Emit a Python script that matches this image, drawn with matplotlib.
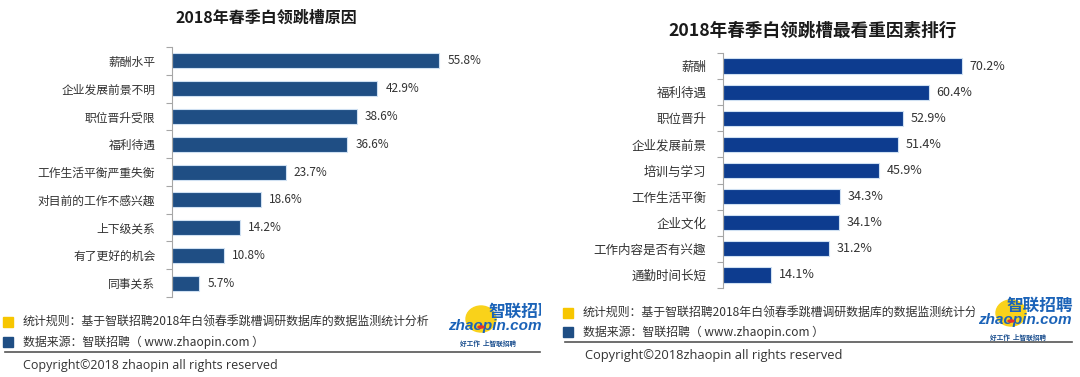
import numpy as np
import matplotlib.pyplot as plt
from matplotlib.patches import Rectangle, Ellipse, Circle
from matplotlib.transforms import Bbox, TransformedBbox

plt.rcParams['font.family'] = ['Noto Sans CJK SC', 'DejaVu Sans']

# left chart: reasons for changing jobs
left_title = '2018年春季白领跳槽原因'
left_labels = ['薪酬水平', '企业发展前景不明', '职位晋升受限', '福利待遇', '工作生活平衡严重失衡',
               '对目前的工作不感兴趣', '上下级关系', '有了更好的机会', '同事关系']
left_values = [55.8, 42.9, 38.6, 36.6, 23.7, 18.6, 14.2, 10.8, 5.7]

# right chart: most valued factors
right_title = '2018年春季白领跳槽最看重因素排行'
right_labels = ['薪酬', '福利待遇', '职位晋升', '企业发展前景', '培训与学习',
                '工作生活平衡', '企业文化', '工作内容是否有兴趣', '通勤时间长短']
right_values = [70.2, 60.4, 52.9, 51.4, 45.9, 34.3, 34.1, 31.2, 14.1]

note_rule = '统计规则：基于智联招聘2018年白领春季跳槽调研数据库的数据监测统计分析'
note_source = '数据来源：智联招聘（ www.zhaopin.com ）'
copy_left = 'Copyright©2018 zhaopin all rights reserved'
copy_right = 'Copyright©2018zhaopin all rights reserved'

W, H = 1080, 377
fig = plt.figure(figsize=(W / 100, H / 100), dpi=100)
fig.patch.set_facecolor('white')


def fx(x):
    return x / W


def fy(y):
    return 1 - y / H


def clip_to(artist, x0, x1):
    box = Bbox.from_extents(fx(x0), 0, fx(x1), 1)
    artist.set_clip_box(TransformedBbox(box, fig.transFigure))
    artist.set_clip_on(True)


def px_axes(x0, y0, x1, y1):
    return fig.add_axes([fx(x0), fy(y1), (x1 - x0) / W, (y1 - y0) / H])


def bar_panel(box, labels, values, xmax, color, bar_h, fs, title, title_y, title_x, title_fs):
    ax = px_axes(*box)
    y = np.arange(len(labels))
    ax.barh(y, values, height=bar_h, color=color, edgecolor='#cfe0f2', linewidth=0.8)
    ax.set_xlim(0, xmax)
    ax.set_ylim(len(labels) - 0.5, -0.5)
    for s in ['top', 'right', 'bottom']:
        ax.spines[s].set_visible(False)
    ax.spines['left'].set_color('#a6a6a6')
    ax.spines['left'].set_linewidth(0.8)
    ax.set_xticks([])
    ax.set_yticks(y)
    ax.set_yticklabels(labels, fontsize=fs, color='#333333')
    ax.tick_params(axis='y', which='major', length=0, pad=12)
    ax.set_yticks(np.arange(len(labels) + 1) - 0.5, minor=True)
    ax.tick_params(axis='y', which='minor', length=4, color='#a6a6a6', width=0.8)
    for yi, v in zip(y, values):
        ax.text(v + xmax * 0.022, yi, f'{v:.1f}%', va='center', ha='left',
                fontsize=fs, color='#333333')
    fig.text(fx(title_x), fy(title_y), title, ha='center', va='center',
             fontsize=title_fs, fontweight='bold', color='#1a1a1a')
    return ax


bar_panel((172, 47, 540, 297), left_labels, left_values, (540 - 172) / 4.79,
          '#1f4e84', 0.54, 8.5, left_title, 18, 266, 11.5)
bar_panel((723, 53, 1075, 288), right_labels, right_values, (1075 - 723) / 3.405,
          '#0d3c8f', 0.58, 9, right_title, 31, 813, 12.7)


def logo(zx, zy, cn_off, right_edge):
    # zx, zy: left/centre of the "zhaopin.com" word
    arts = []
    arts.append(Ellipse((fx(zx + 33), fy(zy - 7)), 30 / W, 26 / H, transform=fig.transFigure,
                        color='#f9d21a', zorder=5))
    arts.append(Circle((fx(zx + 33), fy(zy + 1)), 3 / W, transform=fig.transFigure,
                       color='#e8302a', zorder=7))
    for a in arts:
        fig.add_artist(a)
    t1 = fig.text(fx(zx + cn_off), fy(zy - 14), '智联招聘', fontsize=12, fontweight='bold',
                  style='italic', color='#1b63b8', ha='left', va='center', zorder=6)
    t2 = fig.text(fx(zx), fy(zy), 'zhaopin.com', fontsize=11, fontweight='bold',
                  style='italic', color='#1b63b8', ha='left', va='center',
                  family=['Liberation Sans', 'DejaVu Sans'], zorder=6)
    t3 = fig.text(fx(zx + 12), fy(zy + 17), '好工作  上智联招聘', fontsize=4.8,
                  fontweight='bold', style='italic', color='#1b4f8f', ha='left', va='center',
                  zorder=6)
    for a in arts + [t1, t2, t3]:
        clip_to(a, 0, right_edge)


def footer(x_sq, y_rule, y_src, x_txt, fs, line_y, line_x0, line_x1, copy_txt, copy_fs,
           copy_y, copy_x, text_end):
    fig.add_artist(Rectangle((fx(x_sq), fy(y_rule + 5)), 10 / W, 10 / H,
                             transform=fig.transFigure, color='#f7c600'))
    fig.add_artist(Rectangle((fx(x_sq), fy(y_src + 5)), 10 / W, 10 / H,
                             transform=fig.transFigure, color='#1f4e84'))
    t = fig.text(fx(x_txt), fy(y_rule), note_rule, fontsize=fs, color='#333333', va='center')
    clip_to(t, 0, text_end)
    fig.text(fx(x_txt), fy(y_src), note_source, fontsize=fs, color='#333333', va='center')
    fig.add_artist(plt.Line2D([fx(line_x0), fx(line_x1)], [fy(line_y), fy(line_y)],
                              color='#555555', lw=1.2))
    fig.text(fx(copy_x), fy(copy_y), copy_txt, fontsize=copy_fs, color='#333333', va='center',
             family=['Open Sans', 'DejaVu Sans'])


footer(3, 322, 342, 23, 8.6, 352, 5, 540, copy_left, 9.0, 365, 23, 445)
footer(563, 313, 332, 583, 8.6, 342, 565, 1072, copy_right, 9.3, 355, 585, 975)
logo(448, 326, 40, 541)
logo(978, 320, 28, 1080)

fig.savefig('out.png', dpi=100, facecolor='white')
